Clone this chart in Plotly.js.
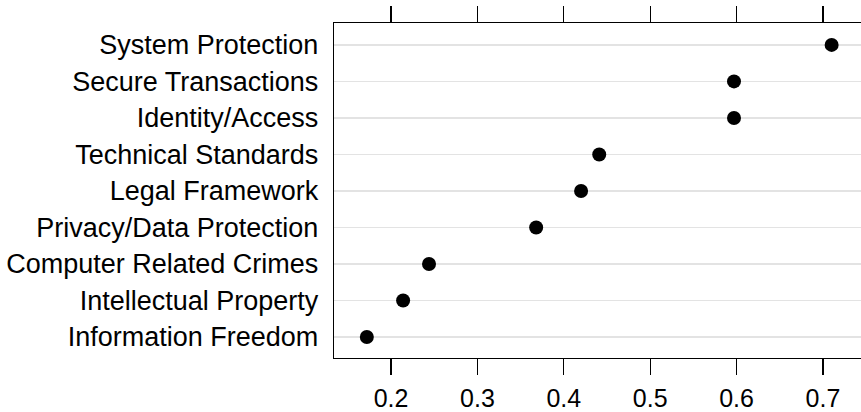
<!DOCTYPE html>
<html>
<head>
<meta charset="utf-8">
<script src="https://cdn.plot.ly/plotly-3.0.1.min.js"></script>
<style>html,body{margin:0;padding:0;background:#fff;}#chart{width:861px;height:412px;}</style>
</head>
<body>
<div id="chart"></div>
<script>
var categories = ["Information Freedom", "Intellectual Property", "Computer Related Crimes",
  "Privacy/Data Protection", "Legal Framework", "Technical Standards",
  "Identity/Access", "Secure Transactions", "System Protection"];
var values = [0.172, 0.214, 0.244, 0.368, 0.420, 0.441, 0.597, 0.597, 0.710];
var xTicks = [0.2, 0.3, 0.4, 0.5, 0.6, 0.7];
var xTickLabels = ["0.2", "0.3", "0.4", "0.5", "0.6", "0.7"];

var font = "'Liberation Sans', Arial, Helvetica, sans-serif";
var trace = {
  type: "scatter", mode: "markers",
  x: values, y: categories,
  marker: {color: "#000000", size: 14},
  hoverinfo: "x+y"
};
var layout = {
  width: 861, height: 412,
  margin: {l: 334, r: 0, t: 23, b: 54, pad: 0},
  paper_bgcolor: "#ffffff", plot_bgcolor: "#ffffff",
  showlegend: false,
  font: {family: font, size: 25, color: "#000000"},
  xaxis: {
    range: [0.134, 0.744],
    tickvals: xTicks, ticktext: xTickLabels,
    ticks: "outside", ticklen: 16, tickwidth: 1.3, tickcolor: "#000",
    showline: true, linewidth: 1.3, linecolor: "#000", mirror: "ticks",
    showgrid: false, zeroline: false,
    tickfont: {family: font, size: 25, color: "#000"},
    ticklabelstandoff: 2
  },
  yaxis: {
    type: "category", categoryorder: "array", categoryarray: categories,
    range: [-0.575, 8.6],
    ticks: "", showline: true, linewidth: 1.3, linecolor: "#000", mirror: false,
    showgrid: true, gridcolor: "#e3e3e3", gridwidth: 1.2, zeroline: false,
    tickfont: {family: font, size: 27, color: "#000"},
    ticklabelstandoff: 9
  }
};
Plotly.newPlot("chart", [trace], layout, {displayModeBar: false, staticPlot: true});
</script>
</body>
</html>
